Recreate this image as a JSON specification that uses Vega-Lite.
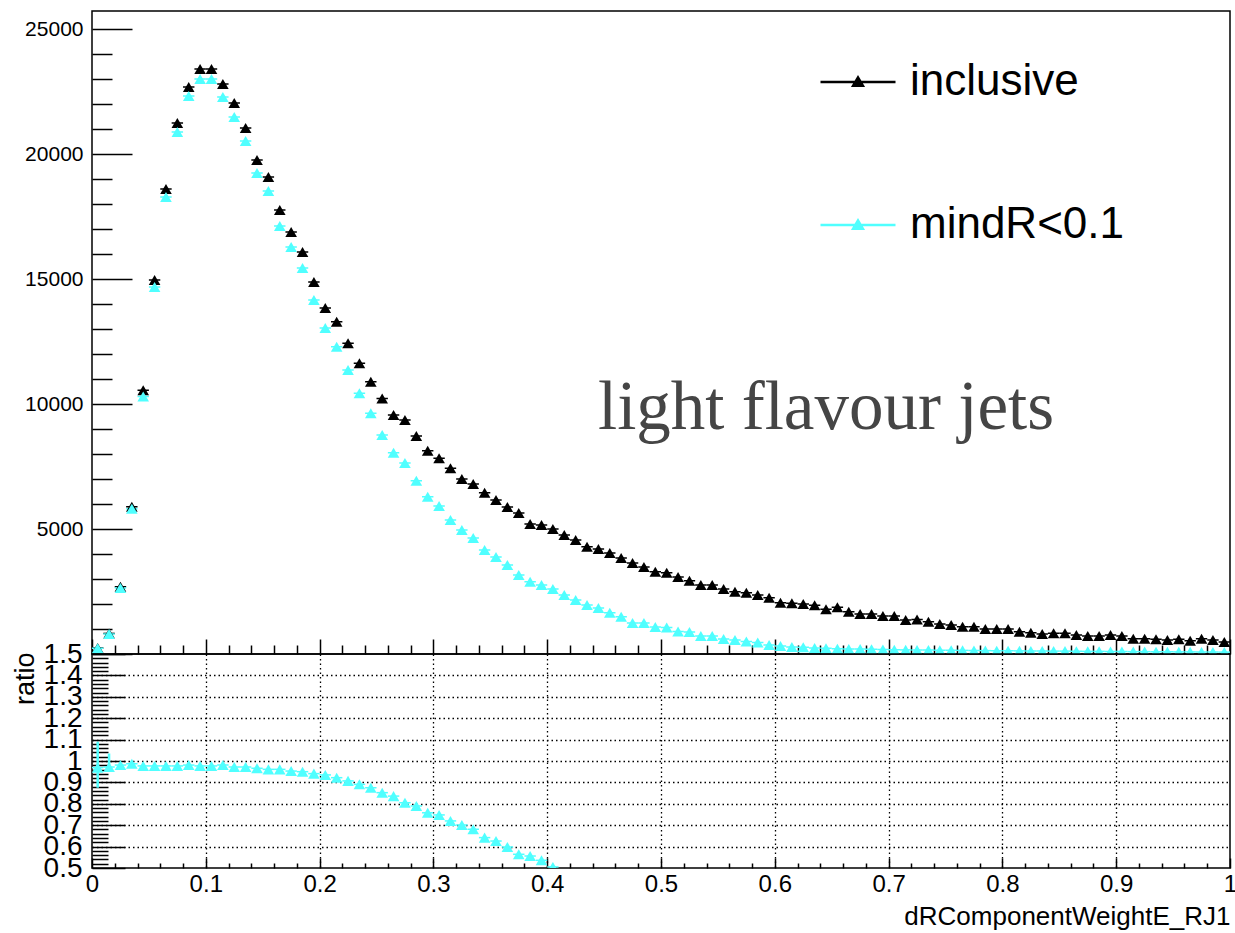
{
  "$schema": "https://vega.github.io/schema/vega-lite/v6.json",
  "autosize": {"type": "pad"},
  "padding": {"left": 10, "top": 10, "right": 6, "bottom": 5},
  "background": "white",
  "spacing": 0,
  "bounds": "flush",
  "config": {
    "view": {"stroke": "black", "strokeWidth": 1.5},
    "font": "Liberation Sans",
    "axis": {"domain": false, "tickColor": "black", "tickWidth": 1.5, "labelColor": "black", "titleColor": "black", "labelFont": "Liberation Sans", "titleFont": "Liberation Sans", "titleFontWeight": "normal", "labelFlush": false, "labelOverlap": false, "labelBound": false}
  },
  "datasets": {
    "hist": [
      {"x":0.005,"s":"inclusive","n":240},{"x":0.015,"s":"inclusive","n":823},{"x":0.025,"s":"inclusive","n":2690},{"x":0.035,"s":"inclusive","n":5890},{"x":0.045,"s":"inclusive","n":10550},
      {"x":0.055,"s":"inclusive","n":14960},{"x":0.065,"s":"inclusive","n":18600},{"x":0.075,"s":"inclusive","n":21240},{"x":0.085,"s":"inclusive","n":22680},{"x":0.095,"s":"inclusive","n":23400},
      {"x":0.105,"s":"inclusive","n":23400},{"x":0.115,"s":"inclusive","n":22800},{"x":0.125,"s":"inclusive","n":22040},{"x":0.135,"s":"inclusive","n":21040},{"x":0.145,"s":"inclusive","n":19760},
      {"x":0.155,"s":"inclusive","n":19080},{"x":0.165,"s":"inclusive","n":17760},{"x":0.175,"s":"inclusive","n":16880},{"x":0.185,"s":"inclusive","n":16080},{"x":0.195,"s":"inclusive","n":14880},
      {"x":0.205,"s":"inclusive","n":13840},{"x":0.215,"s":"inclusive","n":13290},{"x":0.225,"s":"inclusive","n":12430},{"x":0.235,"s":"inclusive","n":11630},{"x":0.245,"s":"inclusive","n":10890},
      {"x":0.255,"s":"inclusive","n":10220},{"x":0.265,"s":"inclusive","n":9560},{"x":0.275,"s":"inclusive","n":9360},{"x":0.285,"s":"inclusive","n":8720},{"x":0.295,"s":"inclusive","n":8130},
      {"x":0.305,"s":"inclusive","n":7830},{"x":0.315,"s":"inclusive","n":7430},{"x":0.325,"s":"inclusive","n":7000},{"x":0.335,"s":"inclusive","n":6800},{"x":0.345,"s":"inclusive","n":6450},
      {"x":0.355,"s":"inclusive","n":6160},{"x":0.365,"s":"inclusive","n":5880},{"x":0.375,"s":"inclusive","n":5640},{"x":0.385,"s":"inclusive","n":5200},{"x":0.395,"s":"inclusive","n":5160},
      {"x":0.405,"s":"inclusive","n":5000},{"x":0.415,"s":"inclusive","n":4760},{"x":0.425,"s":"inclusive","n":4560},{"x":0.435,"s":"inclusive","n":4290},{"x":0.445,"s":"inclusive","n":4200},
      {"x":0.455,"s":"inclusive","n":4040},{"x":0.465,"s":"inclusive","n":3840},{"x":0.475,"s":"inclusive","n":3640},{"x":0.485,"s":"inclusive","n":3480},{"x":0.495,"s":"inclusive","n":3290},
      {"x":0.505,"s":"inclusive","n":3250},{"x":0.515,"s":"inclusive","n":3080},{"x":0.525,"s":"inclusive","n":2930},{"x":0.535,"s":"inclusive","n":2760},{"x":0.545,"s":"inclusive","n":2760},
      {"x":0.555,"s":"inclusive","n":2600},{"x":0.565,"s":"inclusive","n":2490},{"x":0.575,"s":"inclusive","n":2450},{"x":0.585,"s":"inclusive","n":2360},{"x":0.595,"s":"inclusive","n":2250},
      {"x":0.605,"s":"inclusive","n":2050},{"x":0.615,"s":"inclusive","n":2030},{"x":0.625,"s":"inclusive","n":2000},{"x":0.635,"s":"inclusive","n":1950},{"x":0.645,"s":"inclusive","n":1790},
      {"x":0.655,"s":"inclusive","n":1870},{"x":0.665,"s":"inclusive","n":1690},{"x":0.675,"s":"inclusive","n":1600},{"x":0.685,"s":"inclusive","n":1600},{"x":0.695,"s":"inclusive","n":1520},
      {"x":0.705,"s":"inclusive","n":1520},{"x":0.715,"s":"inclusive","n":1360},{"x":0.725,"s":"inclusive","n":1380},{"x":0.735,"s":"inclusive","n":1290},{"x":0.745,"s":"inclusive","n":1200},
      {"x":0.755,"s":"inclusive","n":1160},{"x":0.765,"s":"inclusive","n":1090},{"x":0.775,"s":"inclusive","n":1090},{"x":0.785,"s":"inclusive","n":1000},{"x":0.795,"s":"inclusive","n":1000},
      {"x":0.805,"s":"inclusive","n":1000},{"x":0.815,"s":"inclusive","n":890},{"x":0.825,"s":"inclusive","n":850},{"x":0.835,"s":"inclusive","n":800},{"x":0.845,"s":"inclusive","n":830},
      {"x":0.855,"s":"inclusive","n":830},{"x":0.865,"s":"inclusive","n":760},{"x":0.875,"s":"inclusive","n":720},{"x":0.885,"s":"inclusive","n":720},{"x":0.895,"s":"inclusive","n":760},
      {"x":0.905,"s":"inclusive","n":720},{"x":0.915,"s":"inclusive","n":610},{"x":0.925,"s":"inclusive","n":610},{"x":0.935,"s":"inclusive","n":590},{"x":0.945,"s":"inclusive","n":560},
      {"x":0.955,"s":"inclusive","n":590},{"x":0.965,"s":"inclusive","n":530},{"x":0.975,"s":"inclusive","n":610},{"x":0.985,"s":"inclusive","n":560},{"x":0.995,"s":"inclusive","n":480},
      {"x":0.005,"s":"mindR<0.1","n":230},{"x":0.015,"s":"mindR<0.1","n":800},{"x":0.025,"s":"mindR<0.1","n":2640},{"x":0.035,"s":"mindR<0.1","n":5810},{"x":0.045,"s":"mindR<0.1","n":10300},
      {"x":0.055,"s":"mindR<0.1","n":14680},{"x":0.065,"s":"mindR<0.1","n":18280},{"x":0.075,"s":"mindR<0.1","n":20880},{"x":0.085,"s":"mindR<0.1","n":22320},{"x":0.095,"s":"mindR<0.1","n":23000},
      {"x":0.105,"s":"mindR<0.1","n":23000},{"x":0.115,"s":"mindR<0.1","n":22280},{"x":0.125,"s":"mindR<0.1","n":21480},{"x":0.135,"s":"mindR<0.1","n":20520},{"x":0.145,"s":"mindR<0.1","n":19240},
      {"x":0.155,"s":"mindR<0.1","n":18520},{"x":0.165,"s":"mindR<0.1","n":17120},{"x":0.175,"s":"mindR<0.1","n":16280},{"x":0.185,"s":"mindR<0.1","n":15440},{"x":0.195,"s":"mindR<0.1","n":14160},
      {"x":0.205,"s":"mindR<0.1","n":13040},{"x":0.215,"s":"mindR<0.1","n":12290},{"x":0.225,"s":"mindR<0.1","n":11360},{"x":0.235,"s":"mindR<0.1","n":10430},{"x":0.245,"s":"mindR<0.1","n":9630},
      {"x":0.255,"s":"mindR<0.1","n":8760},{"x":0.265,"s":"mindR<0.1","n":8050},{"x":0.275,"s":"mindR<0.1","n":7640},{"x":0.285,"s":"mindR<0.1","n":6930},{"x":0.295,"s":"mindR<0.1","n":6290},
      {"x":0.305,"s":"mindR<0.1","n":5920},{"x":0.315,"s":"mindR<0.1","n":5360},{"x":0.325,"s":"mindR<0.1","n":4960},{"x":0.335,"s":"mindR<0.1","n":4640},{"x":0.345,"s":"mindR<0.1","n":4160},
      {"x":0.355,"s":"mindR<0.1","n":3880},{"x":0.365,"s":"mindR<0.1","n":3560},{"x":0.375,"s":"mindR<0.1","n":3160},{"x":0.385,"s":"mindR<0.1","n":2890},{"x":0.395,"s":"mindR<0.1","n":2760},
      {"x":0.405,"s":"mindR<0.1","n":2600},{"x":0.415,"s":"mindR<0.1","n":2360},{"x":0.425,"s":"mindR<0.1","n":2160},{"x":0.435,"s":"mindR<0.1","n":1960},{"x":0.445,"s":"mindR<0.1","n":1840},
      {"x":0.455,"s":"mindR<0.1","n":1650},{"x":0.465,"s":"mindR<0.1","n":1490},{"x":0.475,"s":"mindR<0.1","n":1240},{"x":0.485,"s":"mindR<0.1","n":1240},{"x":0.495,"s":"mindR<0.1","n":1080},
      {"x":0.505,"s":"mindR<0.1","n":1060},{"x":0.515,"s":"mindR<0.1","n":900},{"x":0.525,"s":"mindR<0.1","n":880},{"x":0.535,"s":"mindR<0.1","n":720},{"x":0.545,"s":"mindR<0.1","n":720},
      {"x":0.555,"s":"mindR<0.1","n":600},{"x":0.565,"s":"mindR<0.1","n":560},{"x":0.575,"s":"mindR<0.1","n":500},{"x":0.585,"s":"mindR<0.1","n":460},{"x":0.595,"s":"mindR<0.1","n":360},
      {"x":0.605,"s":"mindR<0.1","n":320},{"x":0.615,"s":"mindR<0.1","n":280},{"x":0.625,"s":"mindR<0.1","n":270},{"x":0.635,"s":"mindR<0.1","n":240},{"x":0.645,"s":"mindR<0.1","n":230},
      {"x":0.655,"s":"mindR<0.1","n":210},{"x":0.665,"s":"mindR<0.1","n":200},{"x":0.675,"s":"mindR<0.1","n":200},{"x":0.685,"s":"mindR<0.1","n":190},{"x":0.695,"s":"mindR<0.1","n":180},
      {"x":0.705,"s":"mindR<0.1","n":170},{"x":0.715,"s":"mindR<0.1","n":165},{"x":0.725,"s":"mindR<0.1","n":160},{"x":0.735,"s":"mindR<0.1","n":160},{"x":0.745,"s":"mindR<0.1","n":150},
      {"x":0.755,"s":"mindR<0.1","n":150},{"x":0.765,"s":"mindR<0.1","n":145},{"x":0.775,"s":"mindR<0.1","n":140},{"x":0.785,"s":"mindR<0.1","n":135},{"x":0.795,"s":"mindR<0.1","n":130},
      {"x":0.805,"s":"mindR<0.1","n":130},{"x":0.815,"s":"mindR<0.1","n":125},{"x":0.825,"s":"mindR<0.1","n":120},{"x":0.835,"s":"mindR<0.1","n":120},{"x":0.845,"s":"mindR<0.1","n":115},
      {"x":0.855,"s":"mindR<0.1","n":115},{"x":0.865,"s":"mindR<0.1","n":110},{"x":0.875,"s":"mindR<0.1","n":105},{"x":0.885,"s":"mindR<0.1","n":105},{"x":0.895,"s":"mindR<0.1","n":100},
      {"x":0.905,"s":"mindR<0.1","n":100},{"x":0.915,"s":"mindR<0.1","n":95},{"x":0.925,"s":"mindR<0.1","n":95},{"x":0.935,"s":"mindR<0.1","n":90},{"x":0.945,"s":"mindR<0.1","n":90},
      {"x":0.955,"s":"mindR<0.1","n":85},{"x":0.965,"s":"mindR<0.1","n":85},{"x":0.975,"s":"mindR<0.1","n":80},{"x":0.985,"s":"mindR<0.1","n":80},{"x":0.995,"s":"mindR<0.1","n":75}
    ],
    "ratio": [
      {"x":0.005,"r":0.969,"lo":0.875,"hi":1.09},{"x":0.015,"r":0.972,"lo":0.95,"hi":1.035},{"x":0.025,"r":0.981},{"x":0.035,"r":0.987},{"x":0.045,"r":0.977},
      {"x":0.055,"r":0.977},{"x":0.065,"r":0.977},{"x":0.075,"r":0.977},{"x":0.085,"r":0.981},{"x":0.095,"r":0.977},
      {"x":0.105,"r":0.977},{"x":0.115,"r":0.981},{"x":0.125,"r":0.972},{"x":0.135,"r":0.972},{"x":0.145,"r":0.966},
      {"x":0.155,"r":0.961},{"x":0.165,"r":0.961},{"x":0.175,"r":0.953},{"x":0.185,"r":0.95},{"x":0.195,"r":0.941},
      {"x":0.205,"r":0.935},{"x":0.215,"r":0.922},{"x":0.225,"r":0.907},{"x":0.235,"r":0.891},{"x":0.245,"r":0.875},
      {"x":0.255,"r":0.852},{"x":0.265,"r":0.836},{"x":0.275,"r":0.805},{"x":0.285,"r":0.79},{"x":0.295,"r":0.758},
      {"x":0.305,"r":0.748},{"x":0.315,"r":0.72},{"x":0.325,"r":0.701},{"x":0.335,"r":0.681},{"x":0.345,"r":0.642},
      {"x":0.355,"r":0.626},{"x":0.365,"r":0.598},{"x":0.375,"r":0.564},{"x":0.385,"r":0.556},{"x":0.395,"r":0.536},
      {"x":0.405,"r":0.505}
    ]
  },
  "vconcat": [
    {
      "width": 1138,
      "height": 643,
      "layer": [
        {
          "data": {"name": "hist"},
          "mark": {"type": "tick", "orient": "horizontal", "size": 11.4, "thickness": 1.5, "opacity": 1, "clip": true},
          "encoding": {
            "x": {
              "field": "x", "type": "quantitative", "scale": {"domain": [0, 1], "nice": false},
              "axis": {
                "values": [0,0.02,0.04,0.06,0.08,0.1,0.12,0.14,0.16,0.18,0.2,0.22,0.24,0.26,0.28,0.3,0.32,0.34,0.36,0.38,0.4,0.42,0.44,0.46,0.48,0.5,0.52,0.54,0.56,0.58,0.6,0.62,0.64,0.66,0.68,0.7,0.72,0.74,0.76,0.78,0.8,0.82,0.84,0.86,0.88,0.9,0.92,0.94,0.96,0.98,1],
                "labels": false, "title": null, "grid": false, "labelOverlap": false,
                "tickSize": {"condition": {"test": "abs(datum.value*10-round(datum.value*10))<1e-6", "value": -15}, "value": -9}
              }
            },
            "y": {
              "field": "n", "type": "quantitative", "scale": {"domain": [0, 25720], "nice": false},
              "axis": {
                "values": [0,1000,2000,3000,4000,5000,6000,7000,8000,9000,10000,11000,12000,13000,14000,15000,16000,17000,18000,19000,20000,21000,22000,23000,24000,25000],
                "title": null, "grid": false, "format": "d",
                "labelOverlap": false, "labelBound": false, "labelFlush": false,
                "labelExpr": "datum.value % 5000 == 0 && datum.value > 0 ? datum.label : ''",
                "labelFontSize": 21, "labelPadding": 49,
                "tickSize": {"condition": {"test": "datum.value % 5000 == 0", "value": -40}, "value": -20}
              }
            },
            "color": {"field": "s", "type": "nominal", "scale": {"domain": ["inclusive", "mindR<0.1"], "range": ["black", "#50ffff"]}}
          }
        },
        {
          "data": {"name": "hist"},
          "mark": {"type": "point", "shape": "triangle-up", "filled": true, "size": 135, "opacity": 1, "strokeWidth": 0, "clip": true},
          "encoding": {
            "x": {
              "field": "x", "type": "quantitative", "scale": {"domain": [0, 1], "nice": false},
              "axis": {
                "values": [0,0.02,0.04,0.06,0.08,0.1,0.12,0.14,0.16,0.18,0.2,0.22,0.24,0.26,0.28,0.3,0.32,0.34,0.36,0.38,0.4,0.42,0.44,0.46,0.48,0.5,0.52,0.54,0.56,0.58,0.6,0.62,0.64,0.66,0.68,0.7,0.72,0.74,0.76,0.78,0.8,0.82,0.84,0.86,0.88,0.9,0.92,0.94,0.96,0.98,1],
                "labels": false, "title": null, "grid": false, "labelOverlap": false,
                "tickSize": {"condition": {"test": "abs(datum.value*10-round(datum.value*10))<1e-6", "value": -15}, "value": -9}
              }
            },
            "y": {
              "field": "n", "type": "quantitative", "scale": {"domain": [0, 25720], "nice": false},
              "axis": {
                "values": [0,1000,2000,3000,4000,5000,6000,7000,8000,9000,10000,11000,12000,13000,14000,15000,16000,17000,18000,19000,20000,21000,22000,23000,24000,25000],
                "title": null, "grid": false, "format": "d",
                "labelOverlap": false, "labelBound": false, "labelFlush": false,
                "labelExpr": "datum.value % 5000 == 0 && datum.value > 0 ? datum.label : ''",
                "labelFontSize": 21, "labelPadding": 49,
                "tickSize": {"condition": {"test": "datum.value % 5000 == 0", "value": -40}, "value": -20}
              }
            },
            "color": {
              "field": "s", "type": "nominal",
              "scale": {"domain": ["inclusive", "mindR<0.1"], "range": ["black", "#50ffff"]},
              "legend": {
                "orient": "none", "legendX": 727, "legendY": 32, "direction": "vertical", "title": null,
                "symbolType": "M-1,0L1,0M-0.13,0.1L0.13,0.1L0,-0.12Z",
                "symbolSize": 5625, "symbolStrokeWidth": 2.5, "symbolOpacity": 1,
                "labelFont": "Liberation Sans", "labelFontSize": 44, "labelColor": "black", "labelLimit": 500,
                "labelOffset": 13, "rowPadding": 82, "padding": 0,
                "encode": {"symbols": {"update": {"fill": {"scale": "color", "field": "value"}, "stroke": {"scale": "color", "field": "value"}, "opacity": {"value": 1}}}}
              }
            }
          }
        },
        {
          "data": {"values": [{"label": "light flavour jets"}]},
          "mark": {"type": "text", "font": "Liberation Serif", "fontSize": 69, "color": "#454545", "align": "left", "baseline": "alphabetic"},
          "encoding": {
            "x": {
              "datum": 0.4446, "type": "quantitative", "scale": {"domain": [0, 1], "nice": false},
              "axis": {
                "values": [0,0.02,0.04,0.06,0.08,0.1,0.12,0.14,0.16,0.18,0.2,0.22,0.24,0.26,0.28,0.3,0.32,0.34,0.36,0.38,0.4,0.42,0.44,0.46,0.48,0.5,0.52,0.54,0.56,0.58,0.6,0.62,0.64,0.66,0.68,0.7,0.72,0.74,0.76,0.78,0.8,0.82,0.84,0.86,0.88,0.9,0.92,0.94,0.96,0.98,1],
                "labels": false, "title": null, "grid": false, "labelOverlap": false,
                "tickSize": {"condition": {"test": "abs(datum.value*10-round(datum.value*10))<1e-6", "value": -15}, "value": -9}
              }
            },
            "y": {
              "datum": 9000, "type": "quantitative", "scale": {"domain": [0, 25720], "nice": false},
              "axis": {
                "values": [0,1000,2000,3000,4000,5000,6000,7000,8000,9000,10000,11000,12000,13000,14000,15000,16000,17000,18000,19000,20000,21000,22000,23000,24000,25000],
                "title": null, "grid": false, "format": "d",
                "labelOverlap": false, "labelBound": false, "labelFlush": false,
                "labelExpr": "datum.value % 5000 == 0 && datum.value > 0 ? datum.label : ''",
                "labelFontSize": 21, "labelPadding": 49,
                "tickSize": {"condition": {"test": "datum.value % 5000 == 0", "value": -40}, "value": -20}
              }
            },
            "text": {"field": "label"}
          }
        }
      ]
    },
    {
      "width": 1138,
      "height": 214,
      "data": {"name": "ratio"},
      "encoding": {
        "x": {
          "field": "x", "type": "quantitative", "scale": {"domain": [0, 1], "nice": false},
          "axis": {
            "values": [0,0.02,0.04,0.06,0.08,0.1,0.12,0.14,0.16,0.18,0.2,0.22,0.24,0.26,0.28,0.3,0.32,0.34,0.36,0.38,0.4,0.42,0.44,0.46,0.48,0.5,0.52,0.54,0.56,0.58,0.6,0.62,0.64,0.66,0.68,0.7,0.72,0.74,0.76,0.78,0.8,0.82,0.84,0.86,0.88,0.9,0.92,0.94,0.96,0.98,1],
            "format": ".1~f",
            "labelOverlap": false, "labelBound": false, "labelFlush": false,
            "labelExpr": "abs(datum.value*10-round(datum.value*10))<1e-6 ? datum.label : ''",
            "labelFontSize": 24, "labelBaseline": "top", "labelPadding": 14,
            "tickSize": {"condition": {"test": "abs(datum.value*10-round(datum.value*10))<1e-6", "value": -10}, "value": -5},
            "grid": true, "gridColor": "black", "gridDash": [1.5, 3], "gridWidth": 1.3,
            "gridOpacity": {"condition": {"test": "abs(datum.value*10-round(datum.value*10))<1e-6 && datum.value > 0.05 && datum.value < 0.95", "value": 1}, "value": 0},
            "title": "dRComponentWeightE_RJ1", "titleFontSize": 26, "titleAnchor": "end", "titleAlign": "right", "titleBaseline": "alphabetic", "titleX": 1138, "titleY": 56
          }
        },
        "y": {
          "field": "r", "type": "quantitative", "scale": {"domain": [0.5, 1.5], "nice": false, "zero": false},
          "axis": {
            "values": [0.5,0.52,0.54,0.56,0.58,0.6,0.62,0.64,0.66,0.68,0.7,0.72,0.74,0.76,0.78,0.8,0.82,0.84,0.86,0.88,0.9,0.92,0.94,0.96,0.98,1,1.02,1.04,1.06,1.08,1.1,1.12,1.14,1.16,1.18,1.2,1.22,1.24,1.26,1.28,1.3,1.32,1.34,1.36,1.38,1.4,1.42,1.44,1.46,1.48,1.5],
            "format": ".1~f",
            "labelOverlap": false, "labelBound": false, "labelFlush": false,
            "labelExpr": "abs(datum.value*10-round(datum.value*10))<1e-6 ? datum.label : ''",
            "labelFontSize": 28, "labelPadding": 43,
            "tickSize": {"condition": {"test": "abs(datum.value*10-round(datum.value*10))<1e-6", "value": -33}, "value": -16},
            "grid": true, "gridColor": "black", "gridDash": [1.5, 3], "gridWidth": 1.3,
            "gridOpacity": {"condition": {"test": "abs(datum.value*10-round(datum.value*10))<1e-6 && datum.value > 0.55 && datum.value < 1.45", "value": 1}, "value": 0},
            "title": "ratio", "titleFontSize": 27, "titleAngle": 270, "titleAnchor": "end", "titleAlign": "right", "titleBaseline": "middle", "titleX": -67, "titleY": -2
          }
        }
      },
      "layer": [
        {
          "data": {"values": [{"ref": "unity"}]},
          "mark": {"type": "rule", "color": "black", "strokeWidth": 3},
          "encoding": {
            "x": {"datum": 0, "type": "quantitative"},
            "x2": {"datum": 1},
            "y": {"datum": 1, "type": "quantitative"}
          }
        },
        {
          "mark": {"type": "rule", "color": "#50ffff", "strokeWidth": 2.5, "clip": true},
          "encoding": {
            "y": {"field": "lo", "type": "quantitative", "scale": {"domain": [0.5, 1.5], "nice": false, "zero": false}},
            "y2": {"field": "hi"}
          }
        },
        {"mark": {"type": "tick", "orient": "horizontal", "size": 11.4, "thickness": 1.5, "color": "#50ffff", "opacity": 1, "clip": true}},
        {"mark": {"type": "point", "shape": "triangle-up", "filled": true, "size": 135, "color": "#50ffff", "opacity": 1, "strokeWidth": 0, "clip": true}}
      ]
    }
  ]
}
